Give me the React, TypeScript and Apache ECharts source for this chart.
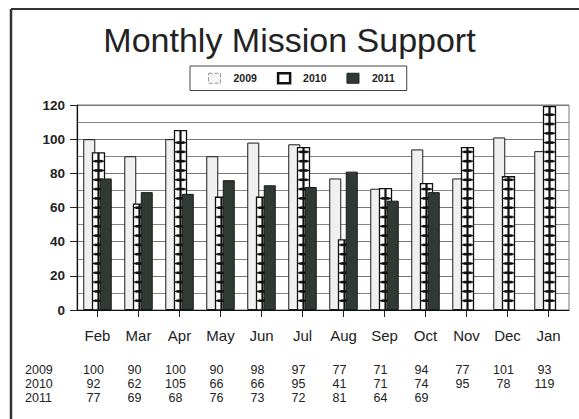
import React, { useEffect, useRef } from "react";
import * as echarts from "echarts";

const months = ["Feb", "Mar", "Apr", "May", "Jun", "Jul", "Aug", "Sep", "Oct", "Nov", "Dec", "Jan"];
const values2009 = [100, 90, 100, 90, 98, 97, 77, 71, 94, 77, 101, 93];
const values2010 = [92, 62, 105, 66, 66, 95, 41, 71, 74, 95, 78, 119];
const values2011: (number | null)[] = [77, 69, 68, 76, 73, 72, 81, 64, 69, null, null, null];
const seriesNames = ["2009", "2010", "2011"];
const yTicks = [0, 20, 40, 60, 80, 100, 120];

const FONT = "'Liberation Sans', Arial, Helvetica, sans-serif";

export default function App() {
  const ref = useRef<HTMLDivElement>(null);

  useEffect(() => {
    if (!ref.current) return;
    const chart = echarts.init(ref.current, undefined, { renderer: "svg" });

    const rows = [values2009, values2010, values2011];
    const tableAxes = rows.map((row, r) => ({
      type: "category",
      data: months,
      position: "bottom",
      gridIndex: 0,
      offset: 53 + r * 14,
      axisLine: { show: false },
      axisTick: { show: false },
      axisLabel: {
        interval: 0,
        margin: 0,
        fontSize: 12.5,
        fontFamily: FONT,
        color: "#222",
        padding: [0, 8, 0, 0],
        formatter: (_v: string, i: number) => (row[i] == null ? "" : String(row[i])),
      },
    }));

    const option: any = {
      animation: false,
      backgroundColor: "#ffffff",
      title: {
        text: "Monthly Mission Support",
        left: "center",
        top: 18,
        textStyle: { fontFamily: FONT, fontSize: 34, fontWeight: "normal", color: "#222" },
      },
      legend: {
        left: 190,
        top: 66,
        orient: "horizontal",
        padding: [6, 12, 6, 18],
        borderColor: "#444",
        borderWidth: 1,
        itemWidth: 12,
        itemHeight: 10,
        itemGap: 20,
        selectedMode: false,
        textStyle: {
          fontFamily: FONT,
          fontSize: 10.5,
          fontWeight: "bold",
          color: "#222",
          padding: [0, 0, 0, 8],
        },
        data: [
          { name: seriesNames[0], icon: "rect", itemStyle: { color: "#f4f4f4", borderColor: "#999", borderWidth: 1, borderType: "dashed" } },
          { name: seriesNames[1], icon: "rect", itemStyle: { color: "#ffffff", borderColor: "#111", borderWidth: 2.5 } },
          { name: seriesNames[2], icon: "rect", itemStyle: { color: "#2e3a33", borderColor: "#222", borderWidth: 1 } },
        ],
      },
      grid: {
        left: 77,
        top: 105,
        width: 492,
        height: 205,
        show: true,
        borderColor: "#777",
        borderWidth: 1,
        backgroundColor: "transparent",
      },
      xAxis: [
        {
          type: "category",
          data: months,
          boundaryGap: true,
          axisLine: { lineStyle: { color: "#111", width: 1.2 } },
          axisTick: { show: true, alignWithLabel: true, length: 7, lineStyle: { color: "#222" } },
          axisLabel: { interval: 0, margin: 18, fontSize: 15, fontFamily: FONT, color: "#222" },
        },
        ...tableAxes,
      ],
      yAxis: {
        type: "value",
        min: yTicks[0],
        max: yTicks[yTicks.length - 1],
        interval: 20,
        axisLine: { show: true, lineStyle: { color: "#111", width: 1.2 } },
        axisTick: { show: true, length: 7, lineStyle: { color: "#222" } },
        axisLabel: { margin: 12, fontSize: 13.5, fontWeight: "bold", fontFamily: FONT, color: "#222" },
        splitLine: { show: true, lineStyle: { color: "#777", width: 1 } },
        minorTick: { show: false, splitNumber: 2 },
        minorSplitLine: { show: true, lineStyle: { color: "#888", width: 1 } },
      },
      graphic: [
        { type: "line", shape: { x1: 11, y1: 9, x2: 579, y2: 9 }, style: { stroke: "#333", lineWidth: 2 } },
        { type: "line", shape: { x1: 11, y1: 9, x2: 11, y2: 419 }, style: { stroke: "#333", lineWidth: 2.5 } },
        ...seriesNames.map((n, r) => ({
          type: "text",
          left: 25,
          top: 363 + r * 14,
          style: { text: n, font: `12.5px ${FONT}`, fill: "#222" },
        })),
      ],
      series: [
        {
          name: seriesNames[0],
          type: "bar",
          barWidth: 12,
          barGap: "37.5%",
          z: 2,
          itemStyle: { color: "#f0f0f0", borderColor: "#1a1a1a", borderWidth: 1 },
          data: values2009,
        },
        {
          name: seriesNames[1],
          type: "custom",
          z: 3,
          itemStyle: { color: "#ffffff", borderColor: "#111" },
          encode: { x: 0, y: 1 },
          data: values2010.map((v, i) => [i, v]),
          renderItem: (_params: any, api: any) => {
            const idx = api.value(0);
            const val = api.value(1);
            const top = api.coord([idx, val]);
            const base = api.coord([idx, 0]);
            const w = 12;
            const cx = Math.round(top[0]) + 0.5;
            const x0 = cx - w / 2;
            const step = 9.3;
            const children: any[] = [
              {
                type: "rect",
                shape: { x: x0, y: top[1], width: w, height: base[1] - top[1] },
                style: { fill: "#ffffff", stroke: "#111", lineWidth: 1.3 },
              },
              {
                type: "line",
                shape: { x1: cx, y1: top[1], x2: cx, y2: base[1] },
                style: { stroke: "#111", lineWidth: 2.2 },
              },
            ];
            for (let y = base[1] - step; y > top[1] + 3; y -= step) {
              children.push({
                type: "line",
                shape: { x1: x0, y1: y, x2: x0 + w, y2: y },
                style: { stroke: "#111", lineWidth: 1.3 },
              });
              children.push({
                type: "line",
                shape: { x1: cx - 4, y1: y, x2: cx + 4, y2: y },
                style: { stroke: "#111", lineWidth: 2.6 },
              });
            }
            return { type: "group", children };
          },
        },
        {
          name: seriesNames[2],
          type: "bar",
          barWidth: 12,
          barGap: "37.5%",
          z: 4,
          itemStyle: { color: "#2e3a33", borderColor: "#1a1a1a", borderWidth: 1 },
          data: values2011,
        },
      ],
    };

    chart.setOption(option);
    return () => chart.dispose();
  }, []);

  return (
    <div
      ref={ref}
      style={{ position: "absolute", left: 0, top: 0, width: 579, height: 419, background: "#fff" }}
    />
  );
}
